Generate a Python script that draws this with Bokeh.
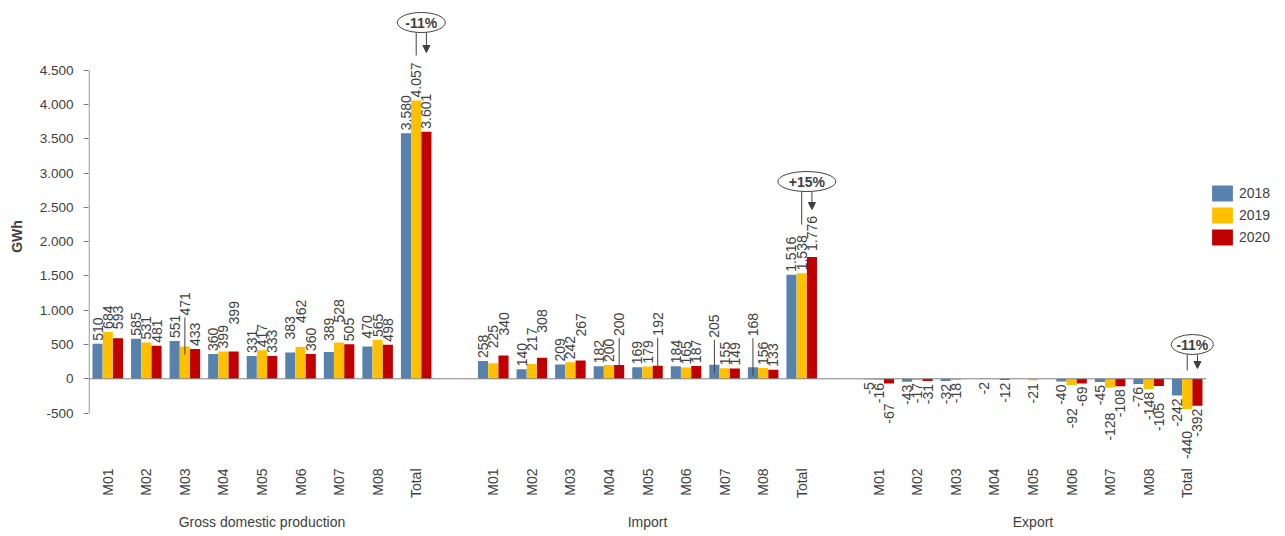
import math
from bokeh.plotting import figure
from bokeh.models import (ColumnDataSource, Range1d, FixedTicker, LinearAxis,
                          Legend, LegendItem, Arrow, NormalHead)
from bokeh.core.properties import value
from bokeh.embed import file_html
from bokeh.resources import INLINE

# ---------------- data ----------------
groups = ["Gross domestic production", "Import", "Export"]
periods = ["M01", "M02", "M03", "M04", "M05", "M06", "M07", "M08", "Total"]
years = ["2018", "2019", "2020"]

gdp_2018 = [510, 585, 551, 360, 331, 383, 389, 470, 3580]
gdp_2019 = [684, 531, 471, 399, 417, 462, 528, 565, 4057]
gdp_2020 = [593, 481, 433, 399, 333, 360, 505, 498, 3601]

imp_2018 = [258, 140, 209, 182, 169, 184, 205, 168, 1516]
imp_2019 = [225, 217, 242, 200, 179, 165, 155, 156, 1538]
imp_2020 = [340, 308, 267, 200, 192, 187, 149, 133, 1776]

exp_2018 = [-5, -43, -32, -2, 0, -40, -45, -76, -242]
exp_2019 = [-16, -17, -18, 0, -21, -92, -128, -148, -440]
exp_2020 = [-67, -31, 0, -12, 0, -69, -108, -105, -392]

y_ticks = [-500, 0, 500, 1000, 1500, 2000, 2500, 3000, 3500, 4000, 4500]
y_tick_labels = ["-500", "0", "500", "1.000", "1.500", "2.000", "2.500",
                 "3.000", "3.500", "4.000", "4.500"]

series = {
    "2018": [gdp_2018, imp_2018, exp_2018],
    "2019": [gdp_2019, imp_2019, exp_2019],
    "2020": [gdp_2020, imp_2020, exp_2020],
}

# ---------------- styles ----------------
colors = {"2018": "#5682AD", "2019": "#FFC000", "2020": "#C00000"}
TEXT = "#404040"
AXIS = "#808080"
FONT = value("Liberation Sans")

SLOT_PX = 1118 / 29.0                  # px per category slot
EXTRA_PX = 12                          # room right of the last group for the callout
FRAME_W, FRAME_H = 1118 + EXTRA_PX, 452
X_END = 28.5 + EXTRA_PX / SLOT_PX
Y_BOT, Y_TOP = -1220, 5369
K = FRAME_H / (Y_TOP - Y_BOT)          # px per GWh
BAR_W = 0.262
offsets = {"2018": -0.265, "2019": 0.0, "2020": 0.265}

# manual label displacements (px) as in the reference
label_shift = {
    (0, "M01", "2020"): 6, (0, "M03", "2019"): 28, (0, "M04", "2020"): 24,
    (0, "M06", "2018"): 10, (0, "M06", "2019"): 21, (0, "M07", "2018"): 8,
    (0, "M07", "2019"): 17, (0, "M08", "2018"): 5,
    (1, "M01", "2019"): 12, (1, "M01", "2020"): 17, (1, "M02", "2019"): 10,
    (1, "M02", "2020"): 22, (1, "M03", "2020"): 21, (1, "M04", "2020"): 26,
    (1, "M05", "2020"): 27, (1, "M07", "2018"): 24, (1, "M08", "2018"): 28,
    (1, "Total", "2020"): 3,
    (2, "M01", "2020"): 17, (2, "M06", "2019"): 20, (2, "M07", "2019"): 22,
    (2, "M08", "2020"): 14, (2, "Total", "2019"): 19,
}
leaders = {(0, "M03", "2019"), (1, "M04", "2020"), (1, "M05", "2020"),
           (1, "M07", "2018"), (1, "M08", "2018")}

# callouts: (group index, ellipse centre y in GWh, ellipse w px, line px, arrow px)
callouts = [(0, 5194, 48, 23, 20), (1, 2876, 58, 33, 18), (2, 500, 42, 16, 14)]


def slot(gi, mi):
    return gi * 10 + mi


def fmt(v):
    return f"{v:,}".replace(",", ".")


p = figure(frame_width=FRAME_W, frame_height=FRAME_H,
           x_range=Range1d(-0.5, X_END), y_range=Range1d(Y_BOT, Y_TOP),
           output_backend="svg", toolbar_location=None,
           min_border_left=88, min_border_right=77 - EXTRA_PX, min_border_top=10,
           min_border_bottom=72, background_fill_color="white",
           border_fill_color="white")
p.outline_line_color = None
p.grid.visible = False

# bars
legend_items = []
pos_lab = dict(x=[], y=[], t=[], off=[])
neg_lab = dict(x=[], y=[], t=[], off=[])
lead = dict(x0=[], y0=[], x1=[], y1=[])
for yr in years:
    xs, tops = [], []
    for gi, vals in enumerate(series[yr]):
        for mi, v in enumerate(vals):
            x = slot(gi, mi) + offsets[yr]
            xs.append(x)
            tops.append(v)
            if v == 0:
                continue
            key = (gi, periods[mi], yr)
            sh = label_shift.get(key, 0)
            if v > 0:
                pos_lab["x"].append(x); pos_lab["y"].append(v)
                pos_lab["t"].append(fmt(v)); pos_lab["off"].append(-(3 + sh))
                if key in leaders:
                    lead["x0"].append(x); lead["x1"].append(x)
                    lead["y0"].append(v - 8 / K)
                    lead["y1"].append(v + (1 + sh) / K)
            else:
                neg_lab["x"].append(x); neg_lab["y"].append(v)
                neg_lab["t"].append(fmt(v)); neg_lab["off"].append(3 + sh)
    r = p.vbar(x=xs, top=tops, bottom=0, width=BAR_W, fill_color=colors[yr],
               line_color=None)
    legend_items.append(LegendItem(label=yr, renderers=[r]))

# zero line and custom y axis line
p.segment(x0=[-0.5], y0=[0], x1=[28.5], y1=[0], line_color=AXIS, line_width=1)
p.segment(x0=[-0.5 + 0.6 / SLOT_PX], y0=[y_ticks[0]],
          x1=[-0.5 + 0.6 / SLOT_PX], y1=[y_ticks[-1]],
          line_color=AXIS, line_width=1)

# leader lines
p.segment(x0="x0", y0="y0", x1="x1", y1="y1",
          source=ColumnDataSource(lead), line_color=TEXT, line_width=1)

# data labels
p.text(x="x", y="y", text="t", y_offset="off", source=ColumnDataSource(pos_lab),
       angle=math.pi / 2, text_align="left", text_baseline="middle",
       text_font=FONT, text_font_size="14px", text_color=TEXT)
p.text(x="x", y="y", text="t", y_offset="off", source=ColumnDataSource(neg_lab),
       angle=math.pi / 2, text_align="right", text_baseline="middle",
       text_font=FONT, text_font_size="14px", text_color=TEXT)

# callouts (change of the 2020 total against 2019)
for gi, ey, ew, line_px, arr_px in callouts:
    t19 = series["2019"][gi][-1]
    t20 = series["2020"][gi][-1]
    pct = (t20 / t19 - 1) * 100
    x19 = slot(gi, 8) + offsets["2019"]
    x20 = slot(gi, 8) + offsets["2020"]
    xc = (x19 + x20) / 2
    p.ellipse(x=[xc], y=[ey], width=[ew], height=[20],
              width_units="screen", height_units="screen",
              fill_color="white", line_color=TEXT, line_width=1)
    p.text(x=[xc], y=[ey], text=[f"{pct:+.0f}%"], text_align="center",
           text_baseline="middle", text_font=FONT, text_font_size="14px",
           text_font_style="bold", text_color=TEXT)
    ytop = ey - 10 / K
    p.segment(x0=[x19], y0=[ytop], x1=[x19], y1=[ytop - line_px / K],
              line_color=TEXT, line_width=1)
    p.add_layout(Arrow(x_start=x20, y_start=ytop, x_end=x20,
                       y_end=ytop - arr_px / K, line_color=TEXT, line_width=1,
                       end=NormalHead(size=7, fill_color=TEXT, line_color=TEXT)))

# y axis
ya = p.yaxis[0]
ya.ticker = FixedTicker(ticks=y_ticks)
ya.major_label_overrides = {t: l for t, l in zip(y_ticks, y_tick_labels)}
ya.axis_line_color = None
ya.major_tick_line_color = AXIS
ya.major_tick_out = 5
ya.major_tick_in = 0
ya.minor_tick_line_color = None
ya.minor_tick_out = 0
ya.minor_tick_in = 0
ya.major_label_standoff = 10
ya.major_label_text_font = "Liberation Sans"
ya.major_label_text_font_size = "13.5px"
ya.major_label_text_color = TEXT
ya.axis_label = "GWh"
ya.axis_label_text_font = "Liberation Sans"
ya.axis_label_text_font_size = "14px"
ya.axis_label_text_font_style = "bold"
ya.axis_label_text_color = TEXT
ya.axis_label_standoff = 12

# x axis (periods)
slots = [slot(gi, mi) for gi in range(3) for mi in range(9)]
xa = p.xaxis[0]
xa.ticker = FixedTicker(ticks=slots)
xa.major_label_overrides = {slot(gi, mi): periods[mi]
                            for gi in range(3) for mi in range(9)}
xa.major_label_orientation = math.pi / 2
xa.axis_line_color = None
xa.major_tick_line_color = None
xa.minor_tick_line_color = None
xa.major_tick_out = 0
xa.minor_tick_out = 0
xa.major_label_standoff = 6
xa.major_label_text_font = "Liberation Sans"
xa.major_label_text_font_size = "14px"
xa.major_label_text_color = TEXT

# x axis (groups)
ga = LinearAxis(ticker=FixedTicker(ticks=[slot(gi, 4) for gi in range(3)]),
                major_label_overrides={slot(gi, 4): g for gi, g in enumerate(groups)})
ga.axis_line_color = None
ga.major_tick_line_color = None
ga.minor_tick_line_color = None
ga.major_tick_out = 0
ga.minor_tick_out = 0
ga.major_label_standoff = 12
ga.major_label_text_font = "Liberation Sans"
ga.major_label_text_font_size = "14px"
ga.major_label_text_color = TEXT
p.add_layout(ga, "below")

# legend
legend = Legend(items=legend_items, location=(3 - EXTRA_PX, 215), orientation="vertical",
                glyph_width=26, glyph_height=20, spacing=2, label_standoff=4,
                padding=0, margin=0, border_line_color=None,
                background_fill_alpha=0, label_text_font="Liberation Sans",
                label_text_font_size="14px", label_text_color=TEXT)
p.add_layout(legend, "right")

open("out.html", "w").write(file_html(p, INLINE))
